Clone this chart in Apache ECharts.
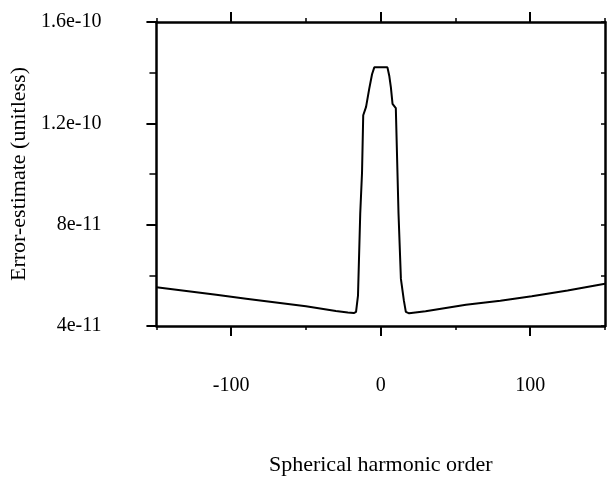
<!DOCTYPE html>
<html>
<head>
<meta charset="utf-8">
<script src="https://cdn.jsdelivr.net/npm/echarts@6/dist/echarts.min.js"></script>
<style>
  html, body { margin: 0; padding: 0; background: #fff; overflow: hidden; }
  #chart { width: 610px; height: 481px; }
</style>
</head>
<body>
<div id="chart"></div>
<script>
// spherical harmonic order (x) and error estimate (y)
var orders = [-150, -130, -110, -90, -70, -50, -30, -22, -18, -16.5, -15.2, -13.7, -12.5, -11.7, -9.8, -7.7, -5.8, -4.3,
  0, 4.5, 5.7, 6.8, 7.9, 10.1, 11.9, 13.5, 15.5, 16.8, 19, 30, 57, 80, 101, 125, 150];
var errors = [5.53e-11, 5.38e-11, 5.23e-11, 5.08e-11, 4.93e-11, 4.78e-11, 4.59e-11, 4.53e-11, 4.51e-11, 4.56e-11,
  5.20e-11, 8.44e-11, 1.006e-10, 1.232e-10, 1.265e-10, 1.336e-10, 1.394e-10, 1.421e-10,
  1.421e-10, 1.421e-10, 1.388e-10, 1.342e-10, 1.277e-10, 1.260e-10, 8.44e-11, 5.86e-11, 5.0e-11, 4.56e-11, 4.50e-11,
  4.58e-11, 4.84e-11, 5.0e-11, 5.17e-11, 5.40e-11, 5.67e-11];

// tick labels
var xLabels = [-100, 0, 100];
var xMinor = [-150, -50, 50, 150];

var FONT = 'Liberation Serif';

var chart = echarts.init(document.getElementById('chart'));

var points = [];
for (var i = 0; i < orders.length; i++) {
  points.push([orders[i], errors[i]]);
}

var frame = { show: true, onZero: false, lineStyle: { color: '#000', width: 2.5 } };
var noLine = { show: false, onZero: false };

var option = {
  animation: false,
  backgroundColor: '#fff',
  grid: { left: 155, right: 5, top: 22, height: 309 },
  xAxis: [
    {
      type: 'value', position: 'bottom', min: -150, max: 150, interval: 50,
      axisLine: frame,
      axisTick: { show: true, customValues: xLabels, length: 10, lineStyle: { color: '#000', width: 2 } },
      axisLabel: {
        customValues: xLabels, margin: 50, color: '#000',
        fontFamily: FONT, fontSize: 20
      },
      splitLine: { show: false },
      name: 'Spherical harmonic order', nameLocation: 'middle', nameGap: 128,
      nameTextStyle: { color: '#000', fontFamily: FONT, fontSize: 22 }
    },
    {
      type: 'value', position: 'bottom', min: -150, max: 150, interval: 50,
      axisLine: noLine,
      axisTick: { show: true, customValues: xMinor, length: 4, lineStyle: { color: '#000', width: 1.5 } },
      axisLabel: { show: false },
      splitLine: { show: false }
    },
    {
      type: 'value', position: 'top', min: -150, max: 150, interval: 50,
      axisLine: frame,
      axisTick: { show: true, customValues: xLabels, length: 10, lineStyle: { color: '#000', width: 2 } },
      axisLabel: { show: false },
      splitLine: { show: false }
    },
    {
      type: 'value', position: 'top', min: -150, max: 150, interval: 50,
      axisLine: noLine,
      axisTick: { show: true, customValues: xMinor, length: 4, lineStyle: { color: '#000', width: 1.5 } },
      axisLabel: { show: false },
      splitLine: { show: false }
    }
  ],
  yAxis: [
    {
      type: 'value', position: 'left', min: 4e-11, max: 1.6e-10, interval: 4e-11,
      axisLine: frame,
      axisTick: { show: true, length: 10, lineStyle: { color: '#000', width: 2 } },
      minorTick: { show: true, splitNumber: 2, length: 7, lineStyle: { color: '#000', width: 1.5 } },
      axisLabel: {
        margin: 55, color: '#000', fontFamily: FONT, fontSize: 20,
        formatter: function (v) { return String(+v.toPrecision(2)); }
      },
      splitLine: { show: false },
      name: 'Error-estimate (unitless)', nameLocation: 'middle', nameGap: 120, nameRotate: 90,
      nameTextStyle: { color: '#000', fontFamily: FONT, fontSize: 22 }
    },
    {
      type: 'value', position: 'right', min: 4e-11, max: 1.6e-10, interval: 2e-11,
      axisLine: frame,
      axisTick: { show: true, inside: true, length: 4, lineStyle: { color: '#000', width: 1.5 } },
      axisLabel: { show: false },
      splitLine: { show: false }
    }
  ],
  series: [
    {
      type: 'line',
      xAxisIndex: 0,
      yAxisIndex: 0,
      data: points,
      showSymbol: false,
      lineStyle: { color: '#000', width: 2 }
    }
  ]
};

option && chart.setOption(option);
</script>
</body>
</html>
